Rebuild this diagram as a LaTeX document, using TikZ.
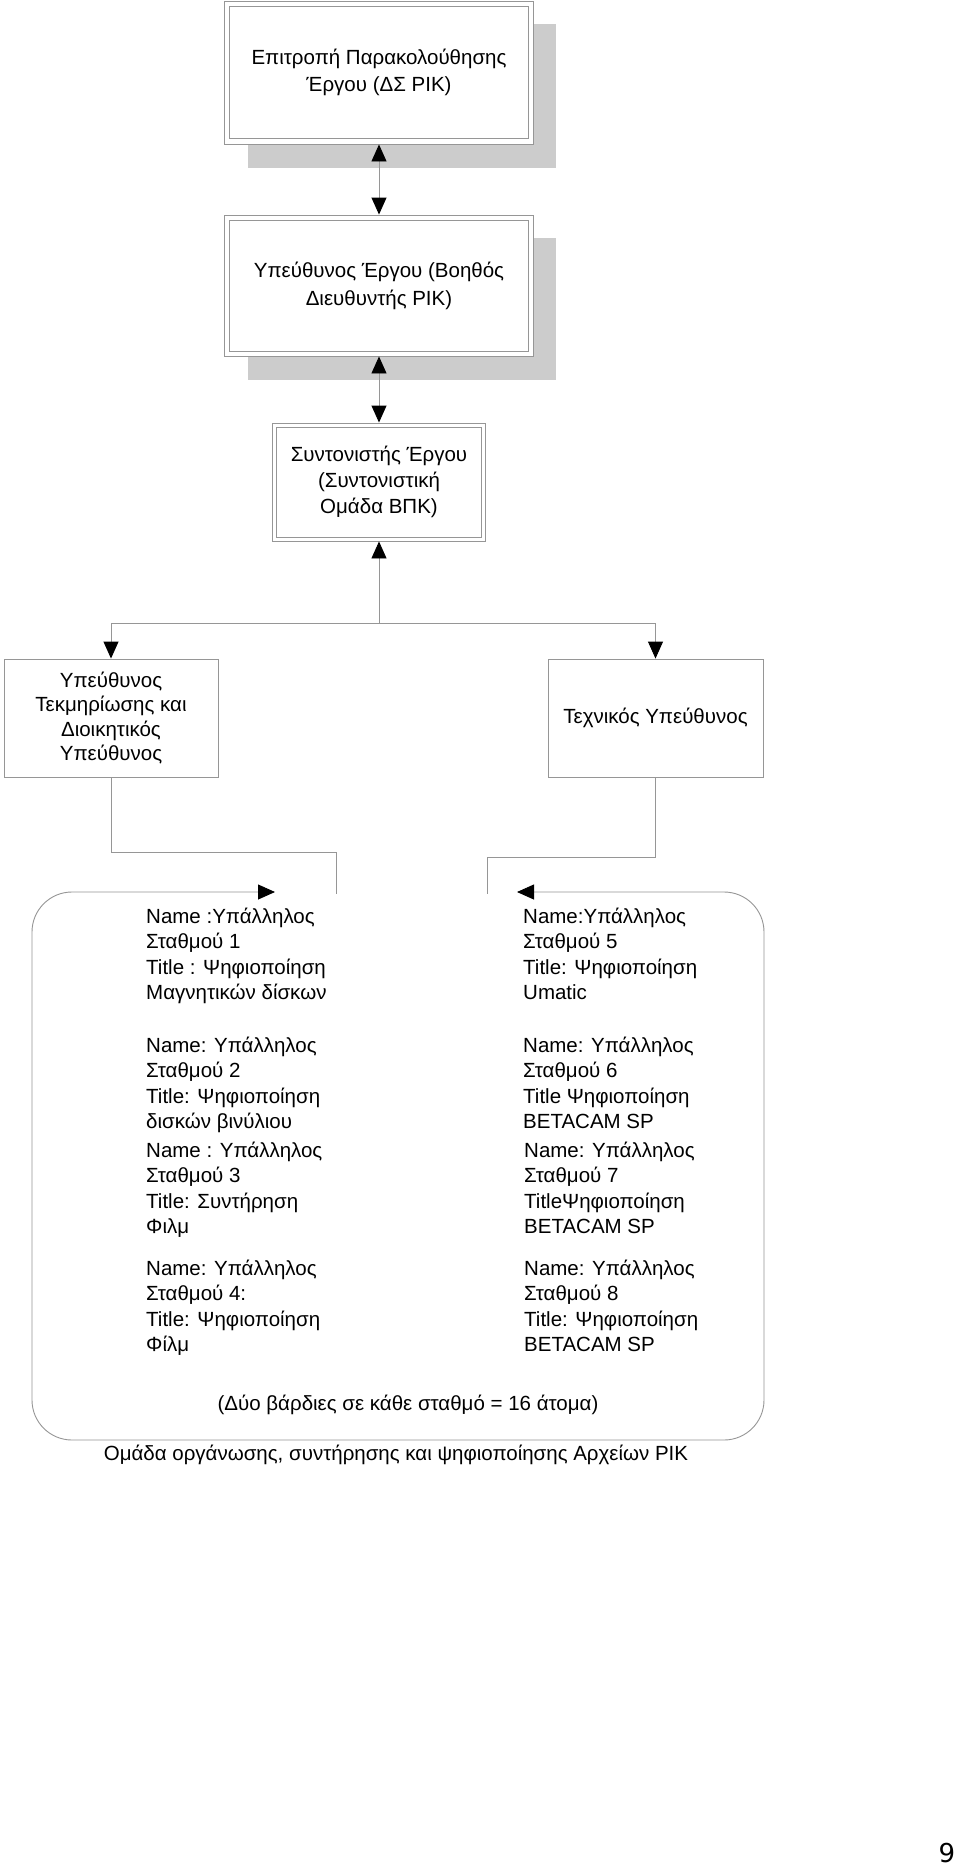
\documentclass[tikz,border=0pt]{standalone}
\usepackage{fontspec}
\setmainfont{Liberation Sans}
\newfontfamily\pagefont{DejaVu Sans}
\usetikzlibrary{arrows.meta}
\definecolor{lc}{RGB}{150,150,150}
\definecolor{shd}{RGB}{204,204,204}
\tikzset{
  ah/.tip={Triangle[length=17pt,width=15pt,color=black]},
  conn/.style={draw=lc, line width=0.9pt},
  box/.style={draw=lc, line width=0.9pt, fill=white, align=center, inner sep=0pt, outer sep=0.45pt},
  txt/.style={align=left, inner sep=0pt, anchor=north west, font=\fontsize{20.5}{25.5}\selectfont},
}
\begin{document}
\begin{tikzpicture}[x=1pt,y=-1pt]
\useasboundingbox[fill=white] (0,0) rectangle (960,1865);

% shadows
\fill[shd] (248,24) rectangle (556,168);
\fill[shd] (248,238) rectangle (556,380);

% top boxes (outer frame = node border, inner frame drawn after)
\node[box, minimum width=309pt, minimum height=143pt, font=\fontsize{20.5}{27.5}\selectfont] (b1) at (379,72.5)
  {Επιτροπή Παρακολούθησης\\Έργου (ΔΣ ΡΙΚ)};
\draw[conn] ([xshift=5.5pt,yshift=-5.5pt]b1.north west) rectangle ([xshift=-5.5pt,yshift=5.5pt]b1.south east);
\node[box, minimum width=309pt, minimum height=141pt, font=\fontsize{20.5}{28}\selectfont] (b2) at (379,285.5)
  {Υπεύθυνος Έργου (Βοηθός\\Διευθυντής ΡΙΚ)};
\draw[conn] ([xshift=5.5pt,yshift=-5.5pt]b2.north west) rectangle ([xshift=-5.5pt,yshift=5.5pt]b2.south east);
\node[box, minimum width=213pt, minimum height=118pt, font=\fontsize{20.5}{26}\selectfont] (b3) at (379,482)
  {Συντονιστής Έργου\\(Συντονιστική\\Ομάδα ΒΠΚ)};
\draw[conn] ([xshift=4.5pt,yshift=-4.5pt]b3.north west) rectangle ([xshift=-4.5pt,yshift=4.5pt]b3.south east);
\node[box, minimum width=214pt, minimum height=118pt, font=\fontsize{20.5}{24.5}\selectfont] (b4) at (111,718)
  {Υπεύθυνος\\Τεκμηρίωσης και\\Διοικητικός\\Υπεύθυνος};
\node[box, minimum width=215pt, minimum height=118pt, font=\fontsize{20.5}{24.5}\selectfont] (b5) at (655.5,718)
  {Τεχνικός Υπεύθυνος};

% connectors
\draw[conn, ah-ah] (b1.south) -- (b2.north);
\draw[conn, ah-ah] (b2.south) -- (b3.north);
\coordinate (j) at (379,623);
\draw[conn, ah-] (b3.south) -- (j);
\draw[conn, -ah] (j) -| (b4.north);
\draw[conn, -ah] (j) -| (b5.north);

\coordinate (k4) at (336,852);
\coordinate (e4) at (336,894);
\coordinate (k5) at (487,857);
\coordinate (e5) at (487,894);
\draw[conn] (b4.south) |- (k4) -- (e4);
\draw[conn] (b5.south) |- (k5) -- (e5);

% group frame (rounded)
\coordinate (tl) at (275,892);
\coordinate (tr) at (517,892);
\draw[conn, ah-ah, rounded corners=40pt] (tl) -- (32,892) -- (32,1440) -- (764,1440) -- (764,892) -- (tr);

% station texts
\node[txt] (s1) at (146,905) {\rule{0pt}{18pt}Name :Υπάλληλος\\Σταθμού 1\\Title : Ψηφιοποίηση\\Μαγνητικών δίσκων};
\node[txt] (s2) at (146,1034) {\rule{0pt}{18pt}Name: Υπάλληλος\\Σταθμού 2\\Title: Ψηφιοποίηση\\δισκών βινύλιου};
\node[txt] (s3) at (146,1139) {\rule{0pt}{18pt}Name : Υπάλληλος\\Σταθμού 3\\Title: Συντήρηση\\Φιλμ};
\node[txt] (s4) at (146,1257) {\rule{0pt}{18pt}Name: Υπάλληλος\\Σταθμού 4:\\Title: Ψηφιοποίηση\\Φίλμ};

\node[txt] (s5) at (523,905) {\rule{0pt}{18pt}Name:Υπάλληλος\\Σταθμού 5\\Title: Ψηφιοποίηση\\Umatic};
\node[txt] (s6) at (523,1034) {\rule{0pt}{18pt}Name: Υπάλληλος\\Σταθμού 6\\Title Ψηφιοποίηση\\BETACAM SP};
\node[txt] (s7) at (524,1139) {\rule{0pt}{18pt}Name: Υπάλληλος\\Σταθμού 7\\TitleΨηφιοποίηση\\BETACAM SP};
\node[txt] (s8) at (524,1257) {\rule{0pt}{18pt}Name: Υπάλληλος\\Σταθμού 8\\Title: Ψηφιοποίηση\\BETACAM SP};

\node[anchor=base, inner sep=0pt, font=\fontsize{20.5}{25}\selectfont] (note) at (408,1410) {(Δύο βάρδιες σε κάθε σταθμό = 16 άτομα)};
\node[anchor=base, inner sep=0pt, font=\fontsize{20.5}{25}\selectfont] (cap) at (396,1460) {Ομάδα οργάνωσης, συντήρησης και ψηφιοποίησης Αρχείων ΡΙΚ};

\node[anchor=base, inner sep=0pt, font=\pagefont\fontsize{26}{30}\selectfont] (pg) at (947,1862) {9};
\end{tikzpicture}
\end{document}
